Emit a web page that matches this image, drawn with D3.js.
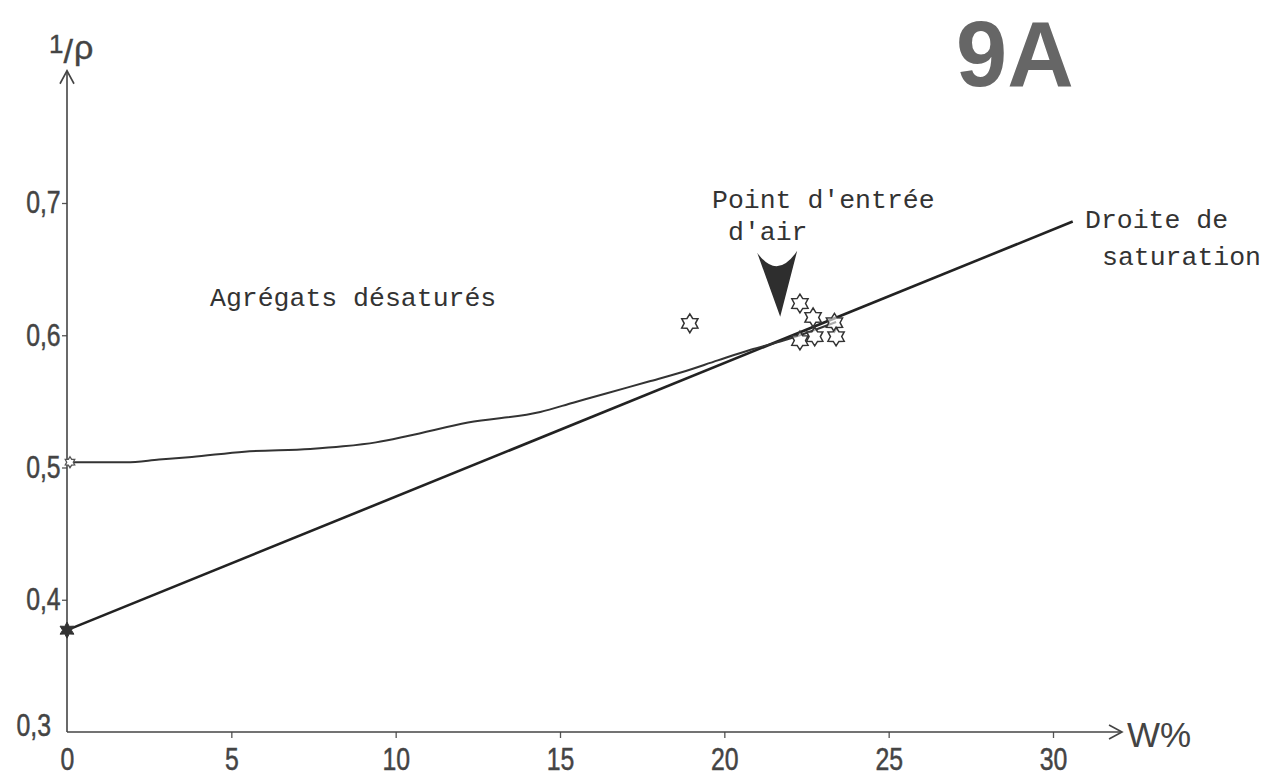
<!DOCTYPE html>
<html>
<head>
<meta charset="utf-8">
<script src="https://cdn.jsdelivr.net/npm/d3@7/dist/d3.min.js"></script>
<style>
  html, body { margin: 0; padding: 0; background: #fff; }
  svg { display: block; }
  .tick text { font-family: "Liberation Sans", Arial, sans-serif; fill: #444; stroke: #444; stroke-width: 0.5px; }
  .mono { font-family: "Liberation Mono", "DejaVu Sans Mono", monospace; fill: #333; }
</style>
</head>
<body>
<svg id="chart" width="1274" height="780"></svg>
<script>
// Water content W% (x) versus specific volume 1/ρ (y)

// Tick values
const xTicks = [0, 5, 10, 15, 20, 25, 30];
const yTicks = [0.3, 0.4, 0.5, 0.6, 0.7];

// Saturation line: 1/ρ = 1/ρs + W/100
const satW = [0, 30.6];
const satV = [0.377, 0.686];

// Desaturated aggregates curve
const curveW = [0, 1.8, 2.8, 3.8, 5.4, 7.4, 8.4, 9.4, 10.4, 12.2, 14.4, 15.4, 16.4, 17.7, 18.7, 19.8, 20.8, 21.8, 22.3, 23.4];
const curveV = [0.504, 0.504, 0.506, 0.508, 0.512, 0.514, 0.516, 0.519, 0.524, 0.534, 0.542, 0.549, 0.556, 0.565, 0.572, 0.581, 0.589, 0.596, 0.600, 0.610];

// Measured points
const ptW = [18.95, 22.3, 22.7, 22.3, 22.75, 23.35, 23.4];
const ptV = [0.609, 0.624, 0.6135, 0.596, 0.599, 0.6095, 0.599];

// Air-entry point marker tip
const airW = 21.7;
const airV = 0.614;

// Axis arrow ends
const axisEndW = 32.1;
const axisEndV = 0.80;

const svg = d3.select("#chart");

const x = d3.scaleLinear().domain([0, 30]).range([67, 1053]);
const y = d3.scaleLinear().domain([0.3, 0.7]).range([732, 203]);

const fmt = d3.formatLocale({decimal: ",", thousands: ".", grouping: [3], currency: ["", ""]}).format(".1f");

const ink = "#333";

// six-pointed star symbol
function hexagram(ratio) {
  return {
    draw(ctx, size) {
      const R = Math.sqrt(size);
      const r = R * ratio;
      for (let i = 0; i < 12; i++) {
        const a = -Math.PI / 2 + i * Math.PI / 6;
        const rr = i % 2 === 0 ? R : r;
        const px = rr * Math.cos(a), py = rr * Math.sin(a);
        if (i === 0) ctx.moveTo(px, py); else ctx.lineTo(px, py);
      }
      ctx.closePath();
    }
  };
}

// Axes
const gy = svg.append("g").attr("transform", `translate(${x(0)},0)`)
  .call(d3.axisLeft(y).tickValues(yTicks).tickSize(5).tickSizeOuter(0).tickPadding(3).tickFormat(fmt));
gy.select(".domain").remove();
gy.selectAll(".tick line").attr("stroke", "#555").attr("stroke-width", 1.3);
gy.selectAll(".tick text").style("font-size", "31px").attr("transform", "scale(0.8,1)");
gy.selectAll(".tick").filter(d => d === 0.3).each(function () {
  d3.select(this).select("line").remove();
  d3.select(this).select("text").attr("x", -20).attr("dy", "0.1em");
});

const gx = svg.append("g").attr("transform", `translate(0,${y(0.3)})`)
  .call(d3.axisBottom(x).tickValues(xTicks).tickSize(6).tickSizeOuter(0).tickPadding(10).tickFormat(d3.format("d")));
gx.select(".domain").remove();
gx.selectAll(".tick line").attr("stroke", "#555").attr("stroke-width", 1.3);
gx.selectAll(".tick").filter(d => d === 0).select("line").remove();
gx.selectAll(".tick text").style("font-size", "31px").attr("transform", "scale(0.8,1)");

// Axis lines with arrows
const axisG = svg.append("g").attr("stroke", "#444").attr("stroke-width", 1.6).attr("fill", "none");
axisG.append("line").attr("x1", x(0)).attr("y1", y(0.3)).attr("x2", x(0)).attr("y2", y(axisEndV));
axisG.append("line").attr("x1", x(0)).attr("y1", y(0.3)).attr("x2", x(axisEndW)).attr("y2", y(0.3));
axisG.append("path").attr("d", `M${x(0) - 7},${y(axisEndV) + 13} L${x(0)},${y(axisEndV)} L${x(0) + 7},${y(axisEndV) + 13}`);
axisG.append("path").attr("d", `M${x(axisEndW) - 13},${y(0.3) - 7} L${x(axisEndW)},${y(0.3)} L${x(axisEndW) - 13},${y(0.3) + 7}`);

// Axis titles
const titleFont = '"Liberation Sans", Arial, sans-serif';
const ax0 = x(0), ayTop = y(axisEndV);
const yTitle = svg.append("text").attr("x", ax0 - 18).attr("y", ayTop - 18)
  .attr("font-family", titleFont).attr("fill", "#444").attr("stroke", "#444").attr("stroke-width", 0.4);
yTitle.append("tspan").attr("font-size", 26).text("1");
yTitle.append("tspan").attr("font-size", 34).attr("dy", 10).text("/");
yTitle.append("tspan").attr("font-size", 34).attr("dx", 1).attr("dy", -4).text("ρ");
svg.append("text").attr("x", x(axisEndW) + 5).attr("y", y(0.3) + 15)
  .attr("font-family", titleFont).attr("fill", "#444").attr("font-size", 35).text("W%");

// Saturation line
const satData = satW.map((w, i) => [w, satV[i]]);
svg.append("path").datum(satData)
  .attr("d", d3.line().x(d => x(d[0])).y(d => y(d[1])))
  .attr("fill", "none").attr("stroke", "#222").attr("stroke-width", 2.6);

// Desaturated curve
const curveData = curveW.map((w, i) => [w, curveV[i]]);
svg.append("path").datum(curveData)
  .attr("d", d3.line().curve(d3.curveMonotoneX).x(d => x(d[0])).y(d => y(d[1])))
  .attr("fill", "none").attr("stroke", ink).attr("stroke-width", 2);

// Axis intercept markers
svg.append("path").attr("transform", `translate(${x(0) + 3},${y(curveV[0])})`)
  .attr("d", d3.symbol().type(hexagram(0.6)).size(30)())
  .attr("fill", "#fff").attr("stroke", "#555").attr("stroke-width", 1.3);
svg.append("path").attr("transform", `translate(${x(0)},${y(satV[0])})`)
  .attr("d", d3.symbol().type(hexagram(0.55)).size(64)())
  .attr("fill", ink).attr("stroke", ink).attr("stroke-width", 1);

// Measured points
const pts = ptW.map((w, i) => [w, ptV[i]]);
svg.append("g").selectAll("path").data(pts).join("path")
  .attr("transform", d => `translate(${x(d[0])},${y(d[1])})`)
  .attr("d", d3.symbol().type(hexagram(0.6)).size(88)())
  .attr("fill", "#fff").attr("fill-opacity", 0.6).attr("stroke", ink).attr("stroke-width", 1.5);

// Air-entry pointer
const tx = x(airW), ty = y(airV);
svg.append("path")
  .attr("d", `M${tx - 23},${ty - 64} Q${tx - 3},${ty - 36} ${tx + 17},${ty - 66} L${tx},${ty} Z`)
  .attr("fill", "#2e2e2e");

// Annotations
svg.append("text").attr("class", "mono").attr("x", 210).attr("y", 306).attr("font-size", 26.5).text("Agrégats désaturés");
svg.append("text").attr("class", "mono").attr("x", 712).attr("y", 208).attr("font-size", 26.5).text("Point d'entrée");
svg.append("text").attr("class", "mono").attr("x", 728).attr("y", 240).attr("font-size", 26.5).text("d'air");
svg.append("text").attr("class", "mono").attr("x", 1085).attr("y", 228).attr("font-size", 26.5).text("Droite de");
svg.append("text").attr("class", "mono").attr("x", 1102).attr("y", 265).attr("font-size", 26.5).text("saturation");

// Figure number
svg.append("text").attr("x", 956).attr("y", 86)
  .attr("font-family", '"Liberation Sans", Arial, sans-serif').attr("font-weight", "bold")
  .attr("font-size", 92).attr("fill", "#666").text("9A");
</script>
</body>
</html>
